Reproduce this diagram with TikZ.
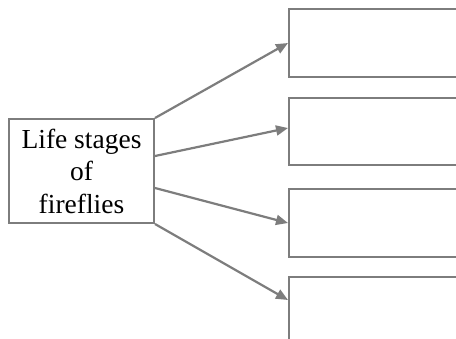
\documentclass[tikz,border=0pt]{standalone}
\usepackage{fontspec}
\setmainfont{Liberation Serif}
\usetikzlibrary{arrows.meta,calc}
\definecolor{linegray}{RGB}{125,125,125}
\tikzset{
  box/.style={draw=linegray, line width=2pt, rectangle, inner sep=0pt},
  conn/.style={draw=linegray, line width=2.2pt, -{Triangle[length=12pt,width=10pt]}}
}
\begin{document}
\begin{tikzpicture}[x=1pt,y=-1pt]
\useasboundingbox (0,0) rectangle (456,338);
\clip (0,0) rectangle (456,338);
\fill[white] (0,0) rectangle (456,338);
\node[box, minimum width=145pt, minimum height=104pt, align=center,
      font=\fontsize{27.5}{32.5}\selectfont] (L) at (81.5,171) {Life stages\\of\\fireflies};
\node[box, anchor=north west, minimum width=200pt, minimum height=68pt] (b1) at (288,8) {};
\node[box, anchor=north west, minimum width=200pt, minimum height=67pt] (b2) at (288,97) {};
\node[box, anchor=north west, minimum width=200pt, minimum height=68pt] (b3) at (288,188) {};
\node[box, anchor=north west, minimum width=200pt, minimum height=80pt] (b4) at (288,276) {};
\draw[conn] (L.north east) -- (b1.west);
\draw[conn] ($(L.east)+(0,-15)$) -- ($(b2.west)+(0,-3.5)$);
\draw[conn] ($(L.east)+(0,17)$) -- (b3.west);
\draw[conn] (L.south east) -- ($(b4.north west)+(0,24)$);
\end{tikzpicture}
\end{document}
